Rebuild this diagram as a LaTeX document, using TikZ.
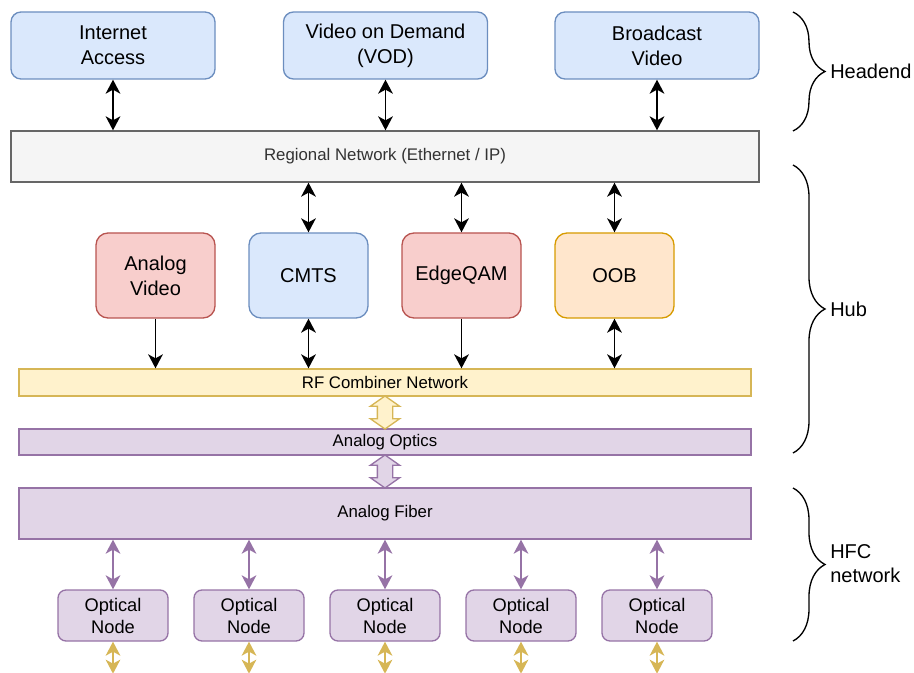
\documentclass[tikz,border=0pt]{standalone}
\usepackage{fontspec}
\setmainfont{Liberation Sans}
\usetikzlibrary{arrows.meta,positioning,shapes.arrows,decorations.pathreplacing}

\definecolor{blueFill}{HTML}{DAE8FC}
\definecolor{blueLine}{HTML}{6C8EBF}
\definecolor{redFill}{HTML}{F8CECC}
\definecolor{redLine}{HTML}{B85450}
\definecolor{orangeFill}{HTML}{FFE6CC}
\definecolor{orangeLine}{HTML}{D79B00}
\definecolor{yellowFill}{HTML}{FFF2CC}
\definecolor{yellowLine}{HTML}{D6B656}
\definecolor{purpleFill}{HTML}{E1D5E7}
\definecolor{purpleLine}{HTML}{9673A6}
\definecolor{grayFill}{HTML}{F5F5F5}
\definecolor{grayLine}{HTML}{666666}
\definecolor{grayText}{HTML}{333333}

\begin{document}
\begin{tikzpicture}[
    x=0.75pt,
    y=-0.75pt,
    >={Stealth[length=10.5pt,width=11pt,inset=3pt]},
    box/.style={draw, line width=1pt, rounded corners=7.5pt, align=center, inner sep=0pt,
        minimum width=153pt, minimum height=50.25pt, font=\fontsize{15}{18.75}\selectfont},
    hub/.style={box, rounded corners=9pt, minimum width=89.25pt, minimum height=63.75pt},
    bar/.style={draw, line width=1pt, inner sep=0pt, minimum width=549pt,
        font=\fontsize{12.6}{15}\selectfont},
    onode/.style={draw=purpleLine, fill=purpleFill, line width=1pt, rounded corners=6pt,
        align=center, inner sep=0pt, minimum width=82.5pt, minimum height=38.25pt,
        font=\fontsize{13.7}{16.5}\selectfont},
    link/.style={line width=1.2pt},
    fat/.style={double arrow, shape border rotate=90, draw, line width=1pt,
        inner xsep=5.25pt, inner ysep=0pt,
        minimum height=24.75pt, minimum width=21pt, double arrow head extend=5.25pt,
        double arrow tip angle=110},
    brc/.style={decorate, decoration={brace, amplitude=24pt}, line width=1pt},
    side/.style={anchor=west, align=left, inner sep=0pt, font=\fontsize{15}{18}\selectfont}
]
\useasboundingbox (0,0) rectangle (914,673);

% headend
\node[box, fill=blueFill, draw=blueLine] (inet) at (113,45.5) {Internet\\Access};
\node[box, fill=blueFill, draw=blueLine] (vod) at (385.5,45.5) {Video on Demand\\(VOD)};
\node[box, fill=blueFill, draw=blueLine] (bcast) at (657,45.5) {Broadcast\\Video};

\node[bar, fill=grayFill, draw=grayLine, text=grayText, minimum width=561pt, minimum height=38.25pt]
    (reg) at (385,156.5) {Regional Network (Ethernet / IP)};

\foreach \n in {inet,vod,bcast}
    \draw[<->, link] (\n.south) -- (\n.south |- reg.north);

% hub
\node[hub, fill=redFill, draw=redLine] (av) at (155.5,275.5) {Analog\\Video};
\node[hub, fill=blueFill, draw=blueLine] (cmts) at (308.5,275.5) {CMTS};
\node[hub, fill=redFill, draw=redLine] (eqam) at (461.5,275.5) {EdgeQAM};
\node[hub, fill=orangeFill, draw=orangeLine] (oob) at (614.5,275.5) {OOB};

\foreach \n in {cmts,eqam,oob}
    \draw[<->, link] (reg.south -| \n.north) -- (\n.north);

\node[bar, fill=yellowFill, draw=yellowLine, minimum height=20.25pt] (rf) at (385,382.5) {RF Combiner Network};
\node[bar, fill=purpleFill, draw=purpleLine, minimum height=19.5pt] (optics) at (385,442) {Analog Optics};
\node[bar, fill=purpleFill, draw=purpleLine, minimum height=38.25pt] (fiber) at (385,513.5) {Analog Fiber};

\draw[->, link] (av.south) -- (av.south |- rf.north);
\draw[<->, link] (cmts.south) -- (cmts.south |- rf.north);
\draw[->, link] (eqam.south) -- (eqam.south |- rf.north);
\draw[<->, link] (oob.south) -- (oob.south |- rf.north);

\node[fat, fill=yellowFill, draw=yellowLine] (rfOpt) at (385,412.5) {};
\node[fat, fill=purpleFill, draw=purpleLine] (optFib) at (385,471.5) {};

% hfc
\foreach \i/\x in {1/113,2/249,3/385,4/521,5/657} {
    \node[onode] (on\i) at (\x,615.5) {Optical\\Node};
    \draw[<->, link, purpleLine] (on\i.north |- fiber.south) -- (on\i.north);
    \coordinate (drop\i) at ([yshift=-24pt]on\i.south);
    \draw[<->, link, yellowLine] (on\i.south) -- (drop\i);
}

% braces
\coordinate (hdA) at (793,12);
\coordinate (hdB) at (793,131);
\coordinate (hbA) at (793,165);
\coordinate (hbB) at (793,453);
\coordinate (hfA) at (793,488);
\coordinate (hfB) at (793,641);
\draw[brc] (hdA) -- (hdB);
\draw[brc] (hbA) -- (hbB);
\draw[brc] (hfA) -- (hfB);
\node[side] (hdLbl) at (830,71.5) {Headend};
\node[side] (hbLbl) at (830,309) {Hub};
\node[side] (hfLbl) at (830,564) {HFC\\network};
\end{tikzpicture}
\end{document}
